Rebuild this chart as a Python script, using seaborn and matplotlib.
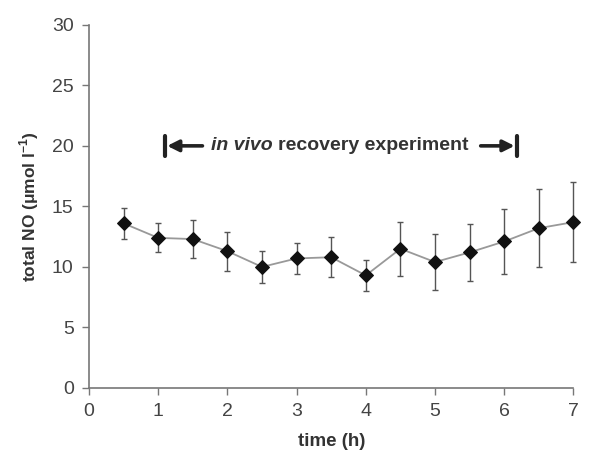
import numpy as np
import pandas as pd
import matplotlib
matplotlib.use("Agg")
import matplotlib.pyplot as plt
import seaborn as sns

time_h = [0.5, 1.0, 1.5, 2.0, 2.5, 3.0, 3.5, 4.0, 4.5, 5.0, 5.5, 6.0, 6.5, 7.0]
total_no = [13.6, 12.4, 12.3, 11.3, 10.0, 10.7, 10.8, 9.3, 11.5, 10.4, 11.2, 12.1, 13.2, 13.7]
sd = [1.3, 1.2, 1.6, 1.6, 1.3, 1.25, 1.65, 1.3, 2.25, 2.3, 2.35, 2.7, 3.2, 3.3]

df = pd.DataFrame({"time": time_h, "no": total_no, "sd": sd})

sns.set_style("ticks")
plt.rcParams["font.family"] = ["Liberation Sans", "DejaVu Sans"]

txt = "#333333"
axc = "#777777"

fig = plt.figure(figsize=(5.93, 4.68), dpi=100)
ax = fig.add_axes([0.15, 0.171, 0.817, 0.776])

eb = ax.errorbar(df["time"], df["no"], yerr=df["sd"], fmt="none", ecolor="#555555",
                 elinewidth=1.0, capsize=2.5, capthick=1.0, zorder=2)
for art in eb.get_children():
    art.set_clip_on(False)
sns.lineplot(data=df, x="time", y="no", ax=ax, color="#999999", lw=1.3,
             marker="D", markersize=7, markerfacecolor="#111111",
             markeredgecolor="#111111", zorder=3, clip_on=False)

ax.set_xlim(0, 7)
ax.set_ylim(0, 30)
ax.set_xticks(range(0, 8))
ax.set_yticks(range(0, 31, 5))
ax.tick_params(colors=axc, labelcolor="#444444", labelsize=14, length=5, width=1)
ax.tick_params(axis="x", pad=6)
ax.tick_params(axis="y", pad=6)
for s in ["top", "right"]:
    ax.spines[s].set_visible(False)
for s in ["left", "bottom"]:
    ax.spines[s].set_color(axc)
    ax.spines[s].set_linewidth(1.2)

ax.set_xlabel("time (h)", fontsize=13.5, fontweight="bold", color=txt, labelpad=9)
ax.set_ylabel(r"total NO ($\mathregular{\mu}$mol l$^{\mathregular{-1}}$)", fontsize=12.5,
              fontweight="bold", color=txt, labelpad=8)

# annotation: in vivo recovery experiment
ya = 20
t1 = ax.text(1.77, ya, "in vivo ", fontsize=14, fontweight="bold", fontstyle="italic",
             color=txt, ha="left", va="center")
ax.annotate("recovery experiment", xy=(1, 0.5), xycoords=t1, fontsize=14,
            fontweight="bold", color=txt, ha="left", va="center")
arr = dict(arrowstyle="-|>", lw=2.6, color="#222222", mutation_scale=17, shrinkA=0, shrinkB=0)
ax.annotate("", xy=(1.13, ya), xytext=(1.64, ya), arrowprops=arr)
ax.annotate("", xy=(6.15, ya), xytext=(5.66, ya), arrowprops=arr)
ax.plot([1.1, 1.1], [ya - 0.85, ya + 0.85], color="#222222", lw=3)
ax.plot([6.18, 6.18], [ya - 0.85, ya + 0.85], color="#222222", lw=3)

ax.set_facecolor("white")
fig.savefig("out.png", dpi=100, facecolor="white")
